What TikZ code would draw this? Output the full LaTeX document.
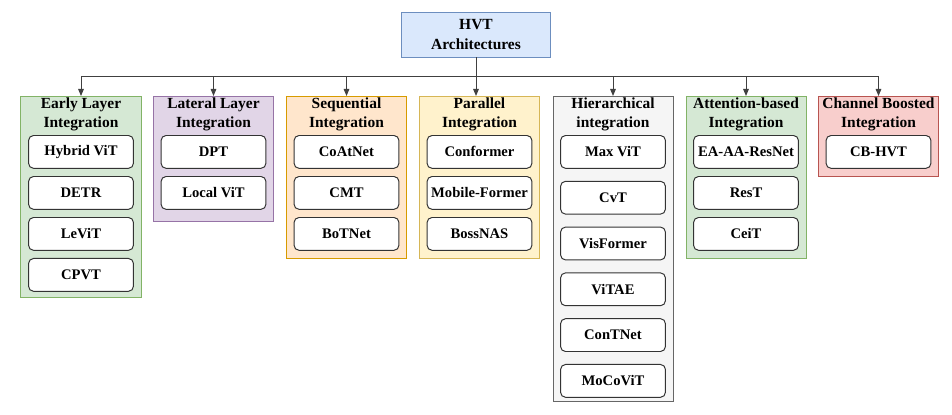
\documentclass[tikz,border=0pt]{standalone}
\usepackage{fontspec}
\setmainfont{Liberation Serif}
\usetikzlibrary{positioning,arrows.meta,calc}

\definecolor{rootfill}{HTML}{DAE8FC}\definecolor{rootdraw}{HTML}{6C8EBF}
\definecolor{greenfill}{HTML}{D5E8D4}\definecolor{greendraw}{HTML}{82B366}
\definecolor{purplefill}{HTML}{E1D5E7}\definecolor{purpledraw}{HTML}{9673A6}
\definecolor{orangefill}{HTML}{FFE6CC}\definecolor{orangedraw}{HTML}{D79B00}
\definecolor{yellowfill}{HTML}{FFF2CC}\definecolor{yellowdraw}{HTML}{D6B656}
\definecolor{grayfill}{HTML}{F5F5F5}\definecolor{graydraw}{HTML}{666666}
\definecolor{redfill}{HTML}{F8CECC}\definecolor{reddraw}{HTML}{B85450}

\begin{document}
\begin{tikzpicture}[x=0.025cm,y=-0.025cm,
  rootbox/.style={draw=rootdraw,fill=rootfill,line width=0.7pt,minimum width=3.7cm,minimum height=1.125cm,
    align=center,font=\fontsize{11}{14.5}\selectfont\bfseries},
  group/.style 2 args={draw=#1,fill=#2,line width=0.7pt,minimum width=3cm,anchor=north,inner sep=0pt},
  grouptitle/.style={align=center,inner sep=0pt,font=\fontsize{11}{13.5}\selectfont\bfseries},
  model/.style={draw=black!80,fill=white,rounded corners=3.5pt,line width=0.7pt,minimum width=2.62cm,
    minimum height=0.82cm,inner sep=1pt,font=\fontsize{10.4}{12}\selectfont\bfseries},
  wire/.style={draw=black!75,line width=0.7pt},
  link/.style={wire,-{Triangle[length=5pt,width=4pt]}}]

  \useasboundingbox (0,0) rectangle (952,414);

  % Root
  \node[rootbox] (hvt) at (476,34.5) {HVT\\Architectures};

  % Groups
  \node[group={greendraw}{greenfill},minimum height=5.025cm]   (early)        at (81,96)    {};
  \node[group={purpledraw}{purplefill},minimum height=3.125cm] (lateral)      at (213.5,96) {};
  \node[group={orangedraw}{orangefill},minimum height=4.05cm]  (sequential)   at (346.5,96) {};
  \node[group={yellowdraw}{yellowfill},minimum height=4.05cm]  (parallel)     at (479.5,96) {};
  \node[group={graydraw}{grayfill},minimum height=7.625cm]     (hierarchical) at (613,96)   {};
  \node[group={greendraw}{greenfill},minimum height=4.05cm]    (attention)    at (746,96)   {};
  \node[group={reddraw}{redfill},minimum height=2cm]           (channel)      at (878.5,96) {};

  \node[grouptitle] (earlyT)        at ($(early.north)+(0,18)$)        {Early Layer\\Integration};
  \node[grouptitle] (lateralT)      at ($(lateral.north)+(0,18)$)      {Lateral Layer\\Integration};
  \node[grouptitle] (sequentialT)   at ($(sequential.north)+(0,18)$)   {Sequential\\Integration};
  \node[grouptitle] (parallelT)     at ($(parallel.north)+(0,18)$)     {Parallel\\Integration};
  \node[grouptitle] (hierarchicalT) at ($(hierarchical.north)+(0,18)$) {Hierarchical\\integration};
  \node[grouptitle] (attentionT)    at ($(attention.north)+(0,18)$)    {Attention-based\\Integration};
  \node[grouptitle] (channelT)      at ($(channel.north)+(0,18)$)      {Channel Boosted\\Integration};

  % Models
  \node[model, below=0.975cm of early.north] (hybrid) {Hybrid ViT};
  \node[model, below=0.18cm of hybrid]       (detr)   {DETR};
  \node[model, below=0.18cm of detr]         (levit)  {LeViT};
  \node[model, below=0.18cm of levit]        (cpvt)   {CPVT};

  \node[model, below=0.975cm of lateral.north] (dpt)      {DPT};
  \node[model, below=0.18cm of dpt]            (localvit) {Local ViT};

  \node[model, below=0.975cm of sequential.north] (coatnet) {CoAtNet};
  \node[model, below=0.18cm of coatnet]           (cmt)     {CMT};
  \node[model, below=0.18cm of cmt]               (botnet)  {BoTNet};

  \node[model, below=0.975cm of parallel.north] (conformer) {Conformer};
  \node[model, below=0.18cm of conformer]       (mobile)    {Mobile-Former};
  \node[model, below=0.18cm of mobile]          (bossnas)   {BossNAS};

  \node[model, below=0.975cm of hierarchical.north] (maxvit)    {Max ViT};
  \node[model, below=0.3cm of maxvit]               (cvt)       {CvT};
  \node[model, below=0.3cm of cvt]                  (visformer) {VisFormer};
  \node[model, below=0.3cm of visformer]            (vitae)     {ViTAE};
  \node[model, below=0.3cm of vitae]                (contnet)   {ConTNet};
  \node[model, below=0.3cm of contnet]              (mocovit)   {MoCoViT};

  \node[model, below=0.975cm of attention.north] (eaaa) {EA-AA-ResNet};
  \node[model, below=0.18cm of eaaa]             (rest) {ResT};
  \node[model, below=0.18cm of rest]             (ceit) {CeiT};

  \node[model, below=0.975cm of channel.north] (cbhvt) {CB-HVT};

  % Connectors
  \coordinate (bus) at ($(hvt.south)+(0,19)$);
  \draw[wire] (early.north |- bus) -- (channel.north |- bus);
  \draw[link] (hvt.south) -- (hvt.south |- parallel.north);
  \foreach \g in {early,lateral,sequential,hierarchical,attention,channel}
    \draw[link] (\g.north |- bus) -- (\g.north);

\end{tikzpicture}
\end{document}
